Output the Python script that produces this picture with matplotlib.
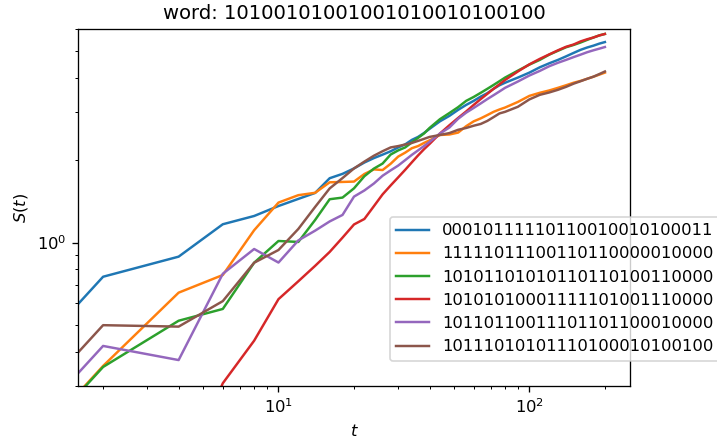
import matplotlib
matplotlib.use('Agg')
import matplotlib.pyplot as plt

word = '10100101001001010010100100'
t = [0, 2, 4, 6, 8, 10, 12, 14, 16, 18, 20, 22, 24, 26, 28, 30, 32, 34, 36, 38, 40,
     44, 48, 52, 56, 60, 64, 68, 72, 76, 80,
     90, 100, 110, 120, 130, 140, 150, 160, 170, 180, 190, 200]

labels = ['00010111110110010010100011', '11111011100110110000010000',
          '10101101010110110100110000', '10101010001111101001110000',
          '10110110011101101100010000', '10111010101110100010100100']

s_blue = [0, 0.751, 0.889, 1.167, 1.251, 1.36, 1.444, 1.518, 1.718, 1.782, 1.865, 1.96, 2.034,
          2.094, 2.154, 2.224, 2.283, 2.37, 2.43, 2.51, 2.60,
          2.77, 2.90, 3.05, 3.18, 3.29, 3.41, 3.51, 3.64, 3.75, 3.83,
          4.00, 4.17, 4.36, 4.51, 4.64, 4.78, 4.92, 5.05, 5.15, 5.23, 5.32, 5.39]
s_orange = [0, 0.355, 0.657, 0.762, 1.11, 1.40, 1.49, 1.52, 1.66, 1.665, 1.67, 1.78, 1.85,
            1.84, 1.94, 2.06, 2.13, 2.21, 2.25, 2.31, 2.36,
            2.47, 2.48, 2.52, 2.66, 2.77, 2.84, 2.92, 3.00, 3.06, 3.11,
            3.26, 3.43, 3.52, 3.59, 3.67, 3.75, 3.83, 3.89, 3.96, 4.03, 4.10, 4.17]
s_green = [0, 0.352, 0.519, 0.573, 0.845, 1.014, 1.006, 1.21, 1.44, 1.46, 1.578, 1.747, 1.862,
           1.943, 2.096, 2.17, 2.225, 2.32, 2.41, 2.50, 2.62,
           2.82, 2.97, 3.12, 3.29, 3.40, 3.52, 3.64, 3.76, 3.88, 4.00,
           4.24, 4.46, 4.64, 4.85, 5.01, 5.16, 5.26, 5.37, 5.49, 5.60, 5.70, 5.77]
s_red = [0, 0.02, 0.13, 0.307, 0.439, 0.622, 0.723, 0.823, 0.925, 1.043, 1.165, 1.22, 1.358,
         1.50, 1.617, 1.73, 1.844, 1.963, 2.08, 2.19, 2.29,
         2.50, 2.68, 2.85, 3.01, 3.18, 3.34, 3.49, 3.64, 3.78, 3.92,
         4.21, 4.47, 4.68, 4.86, 5.03, 5.18, 5.28, 5.42, 5.52, 5.60, 5.70, 5.77]
s_purple = [0, 0.42, 0.373, 0.77, 0.948, 0.846, 1.019, 1.106, 1.195, 1.262, 1.472, 1.55, 1.643,
            1.754, 1.835, 1.91, 2.00, 2.09, 2.17, 2.25, 2.33,
            2.50, 2.63, 2.83, 2.98, 3.10, 3.22, 3.34, 3.45, 3.56, 3.67,
            3.87, 4.07, 4.23, 4.40, 4.53, 4.64, 4.75, 4.85, 4.95, 5.03, 5.10, 5.17]
s_brown = [0, 0.50, 0.494, 0.612, 0.845, 0.94, 1.122, 1.35, 1.577, 1.72, 1.865, 1.975, 2.075,
           2.155, 2.225, 2.25, 2.28, 2.31, 2.35, 2.39, 2.43,
           2.47, 2.51, 2.58, 2.62, 2.67, 2.71, 2.78, 2.87, 2.96, 3.00,
           3.13, 3.33, 3.46, 3.53, 3.61, 3.70, 3.80, 3.88, 3.96, 4.03, 4.12, 4.21]

series = [s_blue, s_orange, s_green, s_red, s_purple, s_brown]

fig = plt.figure(figsize=(717 / 118, 443 / 118), dpi=118)
ax = fig.add_axes([78 / 717, 57 / 443, 552 / 717, 356.7 / 443])
for s, lab in zip(series, labels):
    ax.loglog(t, s, label=lab)
ax.set_ylim(0.3, 6.0)
ax.set_xlabel('$t$')
ax.set_ylabel('$S(t)$')
ax.set_title('word: ' + word)
ax.legend(loc='upper left', bbox_to_anchor=(0.565, 0.4746), borderaxespad=0)
fig.savefig('out.png', dpi=118)
